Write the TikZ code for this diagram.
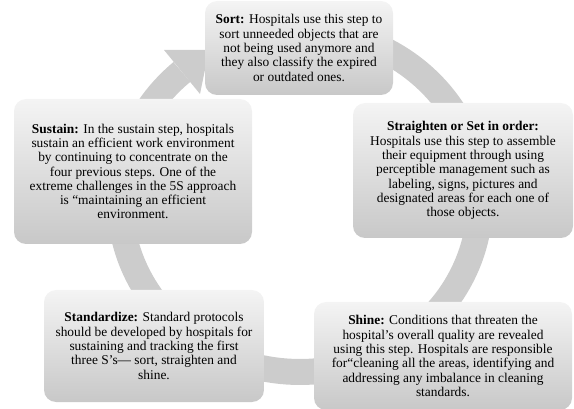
\documentclass[tikz,border=0pt]{standalone}
\usepackage{fontspec}
\setmainfont{Liberation Serif}
\usepackage{tikz}
\usetikzlibrary{positioning}
\definecolor{grisRing}{RGB}{204,204,204}
\definecolor{grisTop}{RGB}{244,244,244}
\definecolor{grisBot}{RGB}{200,200,200}
\tikzset{
  stepbox/.style={rounded corners=12pt, top color=grisTop, bottom color=grisBot,
    align=center, inner sep=0pt, font=\fontsize{13.4}{14.3}\selectfont},
}

\begin{document}
\begin{tikzpicture}[x=1pt, y=-1pt]
  \useasboundingbox (0,0) rectangle (574,409);
  % Ring behind the boxes
  \draw[grisRing, line width=26pt] plot[domain=280:589, samples=150, variable=\t]
    ({300+180*cos(\t)}, {201+171*sin(\t)});
  % Arrow head pointing back to Sort
  \coordinate (tip) at (209,50);
  \fill[grisRing] (tip) -- (200,94) -- (164,50) -- cycle;

  % The five steps
  \node[stepbox, minimum width=188pt, minimum height=94pt] (sort) at (299,48)
    {\textbf{Sort:} Hospitals use this step to\\ sort unneeded objects that are\\
     not being used anymore and\\ they also classify the expired\\ or outdated ones.};
  \node[stepbox, minimum width=220pt, minimum height=135pt] (straight) at (463,170.5)
    {\textbf{Straighten or Set in order:}\\ Hospitals use this step to assemble\\
     their equipment through using\\ perceptible management such as\\
     labeling, signs, pictures and\\ designated areas for each one of\\ those objects.};
  \node[stepbox, minimum width=258pt, minimum height=108pt] (shine) at (443,356)
    {\textbf{Shine:} Conditions that threaten the\\ hospital's overall quality are revealed\\
     using this step. Hospitals are responsible\\ for``cleaning all the areas, identifying and\\
     addressing any imbalance in cleaning\\ standards.};
  \node[stepbox, minimum width=220pt, minimum height=112pt] (standard) at (154,346)
    {\textbf{Standardize:} Standard protocols\\ should be developed by hospitals for\\
     sustaining and tracking the first\\ three S's--- sort, straighten and\\ shine.};
  \node[stepbox, minimum width=238pt, minimum height=145pt] (sustain) at (133,171.5)
    {\textbf{Sustain:} In the sustain step, hospitals\\ sustain an efficient work environment\\
     by continuing to concentrate on the\\ four previous steps. One of the\\
     extreme challenges in the 5S approach\\ is ``maintaining an efficient\\ environment.};
\end{tikzpicture}
\end{document}
